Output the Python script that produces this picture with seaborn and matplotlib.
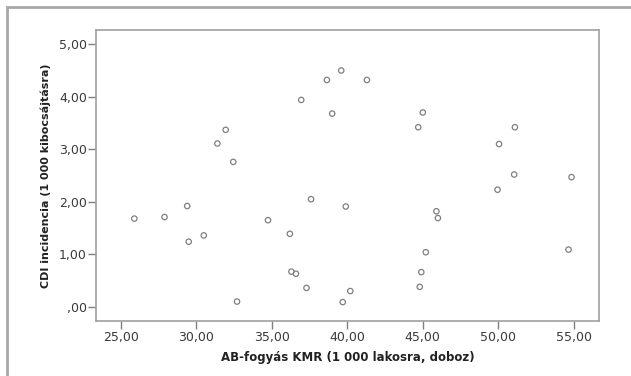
import matplotlib
matplotlib.use("Agg")
import matplotlib.pyplot as plt
import numpy as np
import pandas as pd
import seaborn as sns
from matplotlib.patches import Rectangle
from matplotlib.ticker import FixedLocator, FuncFormatter

# antibiotic consumption per county vs CDI incidence
ab_fogyas = [25.9, 27.9, 29.4, 29.5, 30.5, 32.7, 34.75, 36.2, 36.3, 36.6,
             37.3, 37.6, 39.9, 39.7, 40.2, 44.8, 44.9, 45.2, 45.9, 46.0,
             49.95, 54.65, 39.6, 38.65, 41.3, 36.95, 39.0, 45.0, 44.7, 51.1,
             50.05, 51.05, 54.85, 31.95, 31.4, 32.45]
cdi_incidencia = [1.68, 1.71, 1.92, 1.24, 1.36, 0.10, 1.65, 1.39, 0.67, 0.63,
                  0.36, 2.05, 1.91, 0.09, 0.30, 0.38, 0.66, 1.04, 1.82, 1.69,
                  2.23, 1.09, 4.50, 4.32, 4.32, 3.94, 3.68, 3.70, 3.42, 3.42,
                  3.10, 2.52, 2.47, 3.37, 3.11, 2.76]

x_ticks = [25, 30, 35, 40, 45, 50, 55]
y_ticks = [0, 1, 2, 3, 4, 5]
x_label = "AB-fogyás KMR (1 000 lakosra, doboz)"
y_label = "CDI incidencia (1 000 kibocsájtásra)"

df = pd.DataFrame({"x": ab_fogyas, "y": cdi_incidencia})

sns.set_style("white")
plt.rcParams["font.family"] = ["DejaVu Sans"]

fig = plt.figure(figsize=(6.31, 3.76), dpi=100)
ax = fig.add_axes([0.1521, 0.147, 0.797, 0.773])

sns.scatterplot(data=df, x="x", y="y", ax=ax, s=15, marker="o",
                facecolor="none", edgecolor="#7f7f7f", linewidth=0.9)

ax.set_xlim(23.36, 56.66)
ax.set_ylim(-0.265, 5.27)
ax.xaxis.set_major_locator(FixedLocator(x_ticks))
ax.yaxis.set_major_locator(FixedLocator(y_ticks))


def hu_fmt(v, pos):
    s = f"{v:.2f}".replace(".", ",")
    return s[1:] if s.startswith("0,") else s


ax.xaxis.set_major_formatter(FuncFormatter(hu_fmt))
ax.yaxis.set_major_formatter(FuncFormatter(hu_fmt))

ax.tick_params(axis="both", direction="out", length=5.5, width=1,
               color="#808080", labelcolor="#3a3a3a", labelsize=9,
               bottom=True, left=True)
ax.tick_params(axis="y", pad=1)
ax.tick_params(axis="x", pad=2)
ax.set_xlabel(x_label, fontsize=8.5, fontweight="bold", color="#222222", labelpad=5)
ax.set_ylabel(y_label, fontsize=8, fontweight="bold", color="#222222", labelpad=6)

for side, sp in ax.spines.items():
    sp.set_color("#a0a0a0")
    sp.set_linewidth(1.2)
    sp.set_visible(True)

# outer gray frame (cut off at right and bottom like the source)
fig.patches.append(Rectangle((7 / 631, -0.1), 1.1, 1.1 - 7 / 376,
                             transform=fig.transFigure, fill=False,
                             edgecolor="#a8a8a8", linewidth=2))

fig.savefig("out.png", dpi=100)
